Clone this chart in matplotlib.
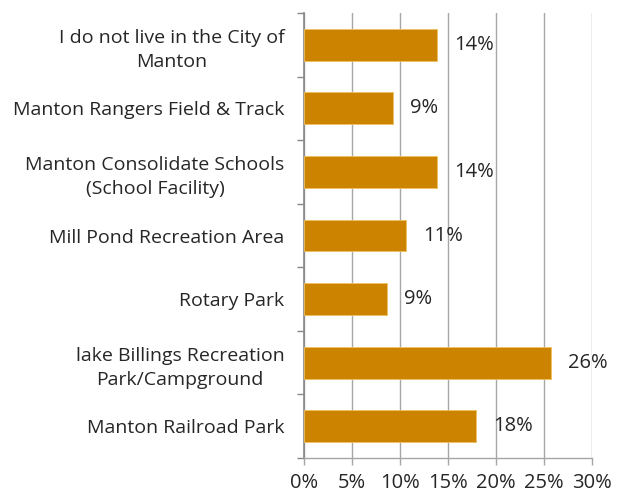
import numpy as np
import matplotlib
matplotlib.use('Agg')
import matplotlib.pyplot as plt
from matplotlib.ticker import FuncFormatter

categories = ['I do not live in the City of\nManton',
              'Manton Rangers Field & Track',
              'Manton Consolidate Schools\n(School Facility)',
              'Mill Pond Recreation Area',
              'Rotary Park',
              'lake Billings Recreation\nPark/Campground',
              'Manton Railroad Park']
values = [13.9, 9.3, 13.9, 10.6, 8.6, 25.7, 17.9]
labels = ['14%', '9%', '14%', '11%', '9%', '26%', '18%']
xticks = [0, 5, 10, 15, 20, 25, 30]

plt.rcParams['font.family'] = ['Open Sans', 'DejaVu Sans']

fig = plt.figure(figsize=(6.22, 4.95), dpi=100)
ax = fig.add_axes([304/622, 37/495, 288/622, 445/495])

y = np.arange(len(categories))
bars = ax.barh(y, values, height=0.5, color='#CC8400', edgecolor='#F0C060',
               linewidth=0.6, zorder=3)

for b, lab in zip(bars, labels):
    ax.annotate(lab, (b.get_width(), b.get_y() + b.get_height() / 2),
                xytext=(17, 0), textcoords='offset pixels',
                ha='left', va='center', fontsize=14.5, color='#262626')

ax.set_ylim(len(categories) - 0.5, -0.5)
ax.set_xlim(0, 30)
ax.set_yticks(y)
ax.set_yticklabels(categories, fontsize=14, color='#262626', ha='right',
                   multialignment='center', linespacing=1.45)
ax.set_yticks(np.arange(-0.5, len(categories), 1), minor=True)
ax.tick_params(axis='y', which='major', length=0, pad=14)
ax.tick_params(axis='y', which='minor', length=5, color='#888888', width=1)

ax.set_xticks(xticks)
ax.xaxis.set_major_formatter(FuncFormatter(lambda v, p: f'{int(v)}%'))
ax.tick_params(axis='x', length=5, color='#A6A6A6', width=1, labelsize=14.5,
               labelcolor='#262626', pad=6)

ax.grid(axis='x', color='#A6A6A6', linewidth=1, zorder=0)
for s in ['top', 'right']:
    ax.spines[s].set_visible(False)
ax.spines['left'].set_color('#888888')
ax.spines['left'].set_linewidth(1.2)
ax.spines['bottom'].set_color('#A6A6A6')
ax.spines['bottom'].set_linewidth(1)

fig.savefig('out.png', dpi=100)
